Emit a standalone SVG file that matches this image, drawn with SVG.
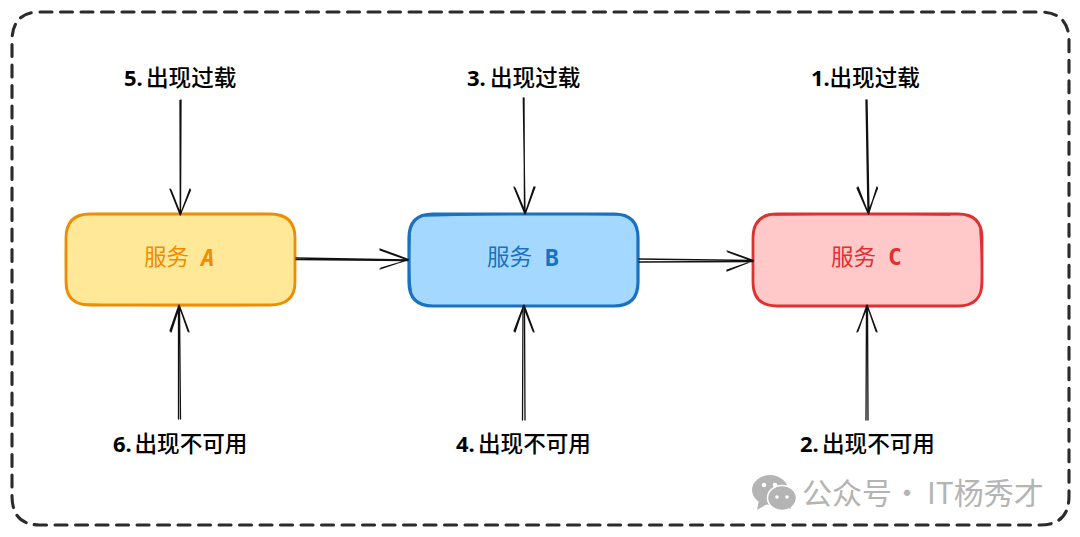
<svg xmlns="http://www.w3.org/2000/svg" width="1080" height="537" viewBox="0 0 1080 537">
<style>
text{font-family:"Noto Sans CJK SC","Noto Sans",sans-serif}
.lbl{font-size:22.600px;fill:#000;font-weight:500}
.num{font-family:"Noto Sans","Noto Sans CJK SC",sans-serif;font-weight:700;font-size:22px;fill:#000}
.ltr{font-family:"DejaVu Sans Mono","Noto Sans",sans-serif;font-size:23px}
.ln{fill:none;stroke:#111;stroke-width:1.3;stroke-linecap:round;stroke-linejoin:round}
.sk{fill:none;stroke-width:1.6;stroke-linecap:round}
.wm{font-size:30px;fill:#b4b4b4}
</style>
<rect width="1080" height="537" fill="#fff"/>
<g id="frame"><path d="M40 12H1040Q1069 12 1069 41V496Q1069 525 1040 525H40Q12 525 12 496V41Q12 12 40 12Z" fill="none" stroke="#2b2b2b" stroke-width="3.100" stroke-dasharray="12 8.500" stroke-linecap="round"/></g>
<g id="service-a">
<path d="M90 214H270Q295 214 295 238V282Q295 305 270 305H90Q66 305 66 282V238Q66 214 90 214Z" fill="#ffe999" stroke="#f08c00" stroke-width="2.800"/>
<path class="sk" stroke="#f08c00" d="M80 304Q150 306.500 270 305M66 240Q65 270 67 288"/>
<text x="144" y="265" font-size="22.600" fill="#f08c00">服务</text><text x="201" y="266" class="ltr" font-style="italic" font-weight="700" fill="#f08c00">A</text>
</g>
<g id="service-b">
<path d="M433 214H614Q638 214 638 238V282Q638 306 614 306H433Q409 306 409 282V238Q409 214 433 214Z" fill="#a5d8ff" stroke="#1971c2" stroke-width="3.200"/>
<path class="sk" stroke="#1971c2" d="M425 216Q520 212.500 625 215M410 235Q408 270 411 290"/>
<text x="487" y="265" font-size="22.600" fill="#1971c2">服务</text><text x="545" y="266" class="ltr" font-weight="700" fill="#1971c2">B</text>
</g>
<g id="service-c">
<path d="M777 214H958Q982 214 982 238V282Q982 306 958 306H777Q753 306 753 282V238Q753 214 777 214Z" fill="#ffc9c9" stroke="#e03131" stroke-width="2.800"/>
<path class="sk" stroke="#e03131" d="M980 230Q983 270 981 292M775 215Q860 213 950 215"/>
<text x="831" y="265" font-size="22.600" fill="#e03131">服务</text><text x="888" y="265" class="ltr" font-weight="700" fill="#e03131">C</text>
</g>
<g id="connectors">
<path class="ln" d="M181 100L180.500 214M180 100.500L180.300 214M170 189L180.300 215L190 189M171 190L180.500 214L190.500 190"/>
<path class="ln" d="M524 98L524.500 213M523.300 98L525 213M514 187L525 214L534 187M515 188L525.500 213L535 187"/>
<path class="ln" d="M866 100L868 213M867 100L869 213M858 187L868.500 214L877 187M857 188L868 213L877.500 188"/>
<path class="ln" d="M178.500 419L178.500 306M180.500 419L179.500 306M170 331L179 305L188 331M171 332L179.500 306L189 332"/>
<path class="ln" d="M522.500 420L523 306M525 420L524.500 306M515 332L524 305L534 332M514 331L523.500 306L533 331"/>
<path class="ln" d="M866 420L866.500 306M868 420L867.500 306M858 331L867 305L877 332M857 332L867.500 306L876 331"/>
<path class="ln" d="M296 258L408 260M296 259.500L408 260.500M380 249L408.500 259.500L380 269M380 250L408 260L381 268"/>
<path class="ln" d="M639 259L753 260.500M639 262L753 261.500M727 251L753.500 260.500L727 271M728 252L753 261L727 270"/>
</g>
<g id="label-5"><text x="124" y="86" class="num">5.</text><text x="146" y="86" class="lbl">出现过载</text></g>
<g id="label-3"><text x="467" y="86" class="num">3.</text><text x="490" y="86" class="lbl">出现过载</text></g>
<g id="label-1"><text x="811" y="86" class="num">1.</text><text x="829.500" y="86" class="lbl">出现过载</text></g>
<g id="label-6"><text x="113" y="452" class="num">6.</text><text x="134.500" y="452" class="lbl">出现不可用</text></g>
<g id="label-4"><text x="456" y="452" class="num">4.</text><text x="478" y="452" class="lbl">出现不可用</text></g>
<g id="label-2"><text x="800" y="452" class="num">2.</text><text x="822" y="452" class="lbl">出现不可用</text></g>
<g id="watermark" fill="#b4b4b4">
<ellipse cx="770" cy="490" rx="18" ry="15"/><path d="M759 500L757 510L769 503Z"/>
<ellipse cx="782" cy="498" rx="14.500" ry="12.500" stroke="#fff" stroke-width="1.500"/><path d="M786 507L791 509L789 502Z"/>
<g fill="#fff"><circle cx="764" cy="485" r="2.300"/><circle cx="775" cy="485" r="2.300"/><circle cx="777" cy="497" r="1.800"/><circle cx="787" cy="497" r="1.800"/></g>
<text x="802" y="504" class="wm">公众号</text><text x="892" y="504" class="wm">·</text><text x="927" y="504" class="wm">IT杨秀才</text>
</g>
</svg>
